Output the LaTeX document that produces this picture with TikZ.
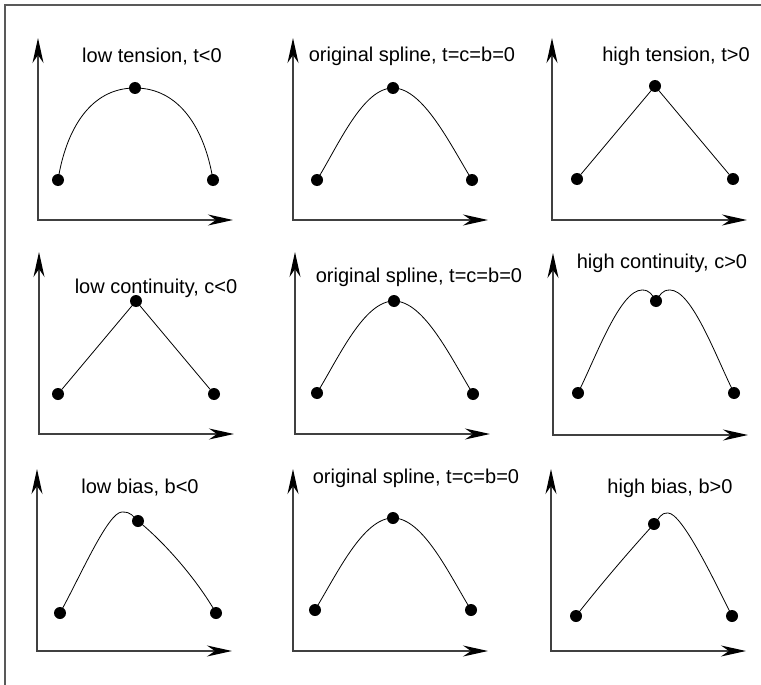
\documentclass[tikz,border=0pt]{standalone}
\usepackage{fontspec}
\setmainfont{Liberation Sans}
\usetikzlibrary{arrows.meta}

\begin{document}
\begin{tikzpicture}[x=1pt,y=-1pt,>={Stealth[length=25pt,width=11pt,inset=8pt,color=black]},
  axis/.style={<->,line width=1.3pt,draw=black!75},
  curve/.style={line width=0.8pt},
  dot/.style={circle,fill=black,inner sep=0pt,minimum size=12pt},
  caption/.style={anchor=base,font=\fontsize{20}{24}\selectfont}]
\useasboundingbox (0,0) rectangle (761,685);
\draw[line width=1.4pt,black!65] (5,685) -- (5,5) -- (761,5);

% axes of the nine panels
\foreach \n/\ox/\oy in {11/38/220,12/293/220,13/552/220,21/39/434,22/295/434,23/553/435,31/37/651,32/293/651,33/551/651}{
  \coordinate (o\n) at (\ox,\oy);
  \path (o\n) ++(0,-182) coordinate (y\n) (o\n) ++(195,0) coordinate (x\n);
  \draw[axis] (y\n) -- (o\n) -- (x\n);
}

% tension
\begin{scope}[shift={(o11)}]
\node[dot] (a11) at (20,-40) {};
\node[dot] (b11) at (97,-132) {};
\node[dot] (c11) at (175,-40) {};
\node[caption] (t11) at (114,-157) {low tension, t<0};
\end{scope}
\draw[curve] (a11.center) .. controls +(8,-50) and +(-45,0) .. (b11.center) .. controls +(45,0) and +(-8,-50) .. (c11.center);

\begin{scope}[shift={(o12)}]
\node[dot] (a12) at (24,-40) {};
\node[dot] (b12) at (100,-132) {};
\node[dot] (c12) at (179,-40) {};
\node[caption] (t12) at (119,-158) {original spline, t=c=b=0};
\end{scope}
\draw[curve] (a12.center) .. controls +(22,-36) and +(-30,0) .. (b12.center) .. controls +(30,0) and +(-22,-36) .. (c12.center);

\begin{scope}[shift={(o13)}]
\node[dot] (a13) at (25,-41) {};
\node[dot] (b13) at (103,-134) {};
\node[dot] (c13) at (181,-41) {};
\node[caption] (t13) at (124,-158) {high tension, t>0};
\end{scope}
\draw[curve] (a13) -- (b13.center) -- (c13);

% continuity
\begin{scope}[shift={(o21)}]
\node[dot] (a21) at (19,-40) {};
\node[dot] (b21) at (97,-133) {};
\node[dot] (c21) at (175,-40) {};
\node[caption] (t21) at (117,-141) {low continuity, c<0};
\end{scope}
\draw[curve] (a21) -- (b21.center) -- (c21);

\begin{scope}[shift={(o22)}]
\node[dot] (a22) at (22,-41) {};
\node[dot] (b22) at (99,-133) {};
\node[dot] (c22) at (178,-40) {};
\node[caption] (t22) at (124,-152) {original spline, t=c=b=0};
\end{scope}
\draw[curve] (a22.center) .. controls +(22,-36) and +(-30,0) .. (b22.center) .. controls +(30,0) and +(-22,-36) .. (c22.center);

\begin{scope}[shift={(o23)}]
\node[dot] (a23) at (25,-42) {};
\node[dot] (b23) at (103,-134) {};
\node[dot] (c23) at (181,-42) {};
\coordinate (h23) at (89,-145);
\coordinate (k23) at (117,-145);
\node[caption] (t23) at (109,-167) {high continuity, c>0};
\end{scope}
\draw[curve] (a23.center) .. controls +(18,-36) and +(-22,0) .. (h23) .. controls +(8,0) and +(-4,-6) .. (b23.center)
  .. controls +(4,-6) and +(-8,0) .. (k23) .. controls +(22,0) and +(-18,-36) .. (c23.center);

% bias
\begin{scope}[shift={(o31)}]
\node[dot] (a31) at (23,-38) {};
\node[dot] (b31) at (101,-130) {};
\node[dot] (c31) at (179,-38) {};
\coordinate (h31) at (85,-139);
\node[caption] (t31) at (103,-158) {low bias, b<0};
\end{scope}
\draw[curve] (a31.center) .. controls +(20,-36) and +(-14,0) .. (h31) .. controls +(10,0) and +(-6,-5) .. (b31.center)
  .. controls +(25,20) and +(-20,-35) .. (c31.center);

\begin{scope}[shift={(o32)}]
\node[dot] (a32) at (22,-41) {};
\node[dot] (b32) at (100,-133) {};
\node[dot] (c32) at (178,-41) {};
\node[caption] (t32) at (123,-168) {original spline, t=c=b=0};
\end{scope}
\draw[curve] (a32.center) .. controls +(22,-36) and +(-30,0) .. (b32.center) .. controls +(30,0) and +(-22,-36) .. (c32.center);

\begin{scope}[shift={(o33)}]
\node[dot] (a33) at (25,-35) {};
\node[dot] (b33) at (103,-127) {};
\node[dot] (c33) at (181,-35) {};
\coordinate (h33) at (117,-138);
\node[caption] (t33) at (119,-158) {high bias, b>0};
\end{scope}
\draw[curve] (a33.center) .. controls +(25,-32) and +(-22,24) .. (b33.center) .. controls +(6,-6) and +(-8,0) .. (h33)
  .. controls +(14,0) and +(-18,-36) .. (c33.center);
\end{tikzpicture}
\end{document}
